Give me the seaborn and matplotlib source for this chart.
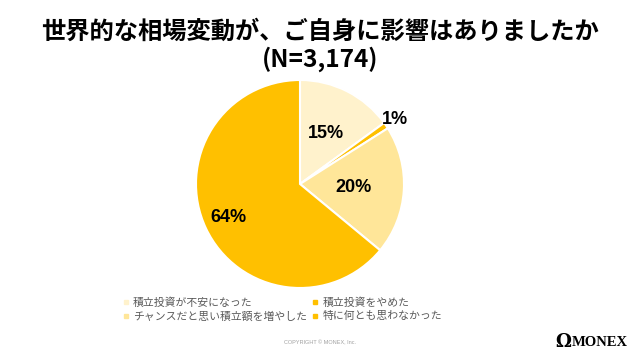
import numpy as np
import matplotlib
matplotlib.use("Agg")
import matplotlib.pyplot as plt
import seaborn as sns

# data
categories = ["積立投資が不安になった", "積立投資をやめた",
              "チャンスだと思い積立額を増やした", "特に何とも思わなかった"]
shares = [15, 1, 20, 64]
colors = ["#FFF2CC", "#FFC000", "#FFE699", "#FFC000"]
label_dist = [0.55, 1.1, 0.52, 0.76]

sns.set_theme(style="white")
plt.rcParams["font.family"] = ["Noto Sans CJK JP", "DejaVu Sans"]

fig = plt.figure(figsize=(6.4, 3.6), dpi=100)
fig.patch.set_facecolor("white")

cx, cy, r = 300, 176, 104
ax = fig.add_axes([(cx - r) / 640, (cy - r) / 360, 2 * r / 640, 2 * r / 360])
wedges, _ = ax.pie(shares, colors=colors, startangle=90, counterclock=False,
                   wedgeprops=dict(edgecolor="white", linewidth=1.5))
ax.set_aspect("equal")
ax.set_xlim(-1, 1)
ax.set_ylim(-1, 1)
ax.axis("off")

for w, v, d in zip(wedges, shares, label_dist):
    ang = np.deg2rad((w.theta1 + w.theta2) / 2)
    ax.text(d * np.cos(ang), d * np.sin(ang), f"{v}%", ha="center", va="center",
            fontsize=13, fontweight="bold", color="black", family="Liberation Sans")

fig.text(0.5, 0.913, "世界的な相場変動が、ご自身に影響はありましたか",
         ha="center", va="center", fontsize=17.5, fontweight="bold", color="black")
fig.text(0.5, 0.835, "(N=3,174)", ha="center", va="center",
         fontsize=17.5, fontweight="bold", color="black")

handles = [plt.Line2D([], [], marker="s", linestyle="", markersize=3.5,
                      markerfacecolor=c, markeredgecolor=c) for c in colors]
# legend fills column-wise; reorder so rows read left-to-right
order = [0, 2, 1, 3]
fig.legend([handles[i] for i in order], [categories[i] for i in order],
           ncol=2, loc="center", bbox_to_anchor=(0.44, 0.14),
           frameon=False, fontsize=7.8, labelcolor="#595959", handletextpad=0.3,
           columnspacing=0.3, labelspacing=0.3, handlelength=0.8)

fig.text(0.5, 0.047, "COPYRIGHT © MONEX, Inc.", ha="center", va="center",
         fontsize=4, color="#A0A0A0", family="Liberation Sans")
fig.text(0.894, 0.05, "MONEX", ha="left", va="center", fontsize=10.5,
         fontweight="bold", color="black", family="Liberation Serif")
fig.text(0.88, 0.05, "Ω", ha="center", va="center", fontsize=13,
         fontweight="bold", color="black", family="DejaVu Serif")

fig.savefig("out.png", dpi=100, facecolor="white")
